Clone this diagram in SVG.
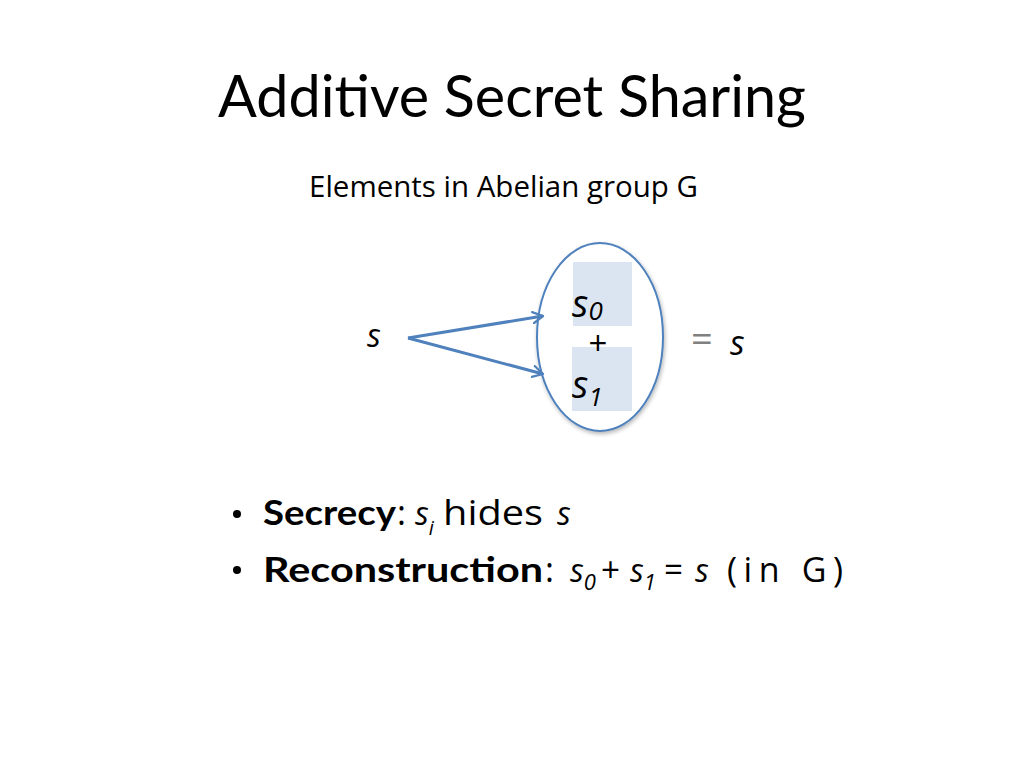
<svg xmlns="http://www.w3.org/2000/svg" width="1024" height="768" viewBox="0 0 1024 768">
<defs>
<marker id="arr" viewBox="0 0 12 12" refX="10" refY="6" markerWidth="4.5" markerHeight="4.5" orient="auto" markerUnits="strokeWidth">
<path d="M1,1 L10,6 L1,11" fill="none" stroke="#4f81bd" stroke-width="2" stroke-linecap="round" stroke-linejoin="round"/>
</marker>
<filter id="sh" x="-20%" y="-20%" width="140%" height="140%">
<feGaussianBlur in="SourceAlpha" stdDeviation="2"/>
<feOffset dx="1" dy="2"/>
<feComponentTransfer><feFuncA type="linear" slope="0.3"/></feComponentTransfer>
<feMerge><feMergeNode/><feMergeNode in="SourceGraphic"/></feMerge>
</filter>
</defs>
<style>
.title{font-family:"Lato","Open Sans",sans-serif;font-size:58px;fill:#000}
.sub{font-family:"Open Sans","Liberation Sans",sans-serif;font-size:30px;fill:#000}
.var{font-family:"Open Sans","Liberation Sans",sans-serif;font-style:italic;fill:#000}
.txt{font-family:"Open Sans","Liberation Sans",sans-serif;font-size:34px;fill:#000}
.b{font-family:"Lato","Open Sans",sans-serif;font-weight:bold;font-size:34px;fill:#000}
.conn{stroke:#4f81bd;stroke-width:3;fill:none}
.share{fill:#dbe5f1}
</style>
<rect width="1024" height="768" fill="#fff"/>
<text class="title" x="218" y="117" textLength="588" lengthAdjust="spacingAndGlyphs">Additive Secret Sharing</text>
<text class="sub" x="309" y="197" textLength="389" lengthAdjust="spacingAndGlyphs">Elements in Abelian group G</text>

<g id="secret">
<text class="var" x="367" y="347" font-size="32">s</text>
</g>
<g id="shares">
<ellipse cx="600" cy="337" rx="63" ry="94" fill="#fff" stroke="#4f81bd" stroke-width="2" filter="url(#sh)"/>
<rect class="share" x="573" y="262" width="59" height="64"/>
<rect class="share" x="572" y="347" width="60" height="64"/>
<text class="var" x="572" y="317" font-size="38">s<tspan font-size="26" dy="3">0</tspan></text>
<text x="598" y="355" font-family="Open Sans, Liberation Sans, sans-serif" font-size="33" text-anchor="middle">+</text>
<text class="var" x="572" y="398" font-size="38">s<tspan font-size="26" dy="8">1</tspan></text>
</g>
<g id="result">
<text x="691" y="352" font-family="Open Sans, Liberation Sans, sans-serif" font-size="38" fill="#808080">=</text>
<text class="var" x="730" y="355" font-size="34">s</text>
</g>
<g id="connectors">
<line class="conn" x1="408" y1="338" x2="543" y2="316" marker-end="url(#arr)"/>
<line class="conn" x1="408" y1="338" x2="543" y2="374" marker-end="url(#arr)"/>
</g>

<g id="bullets">
<circle cx="237" cy="514" r="4"/>
<text class="b" x="263" y="525" textLength="133" lengthAdjust="spacingAndGlyphs">Secrecy</text>
<text class="txt" x="397" y="525">:</text>
<text class="var" x="415" y="525" font-size="32">s<tspan font-size="20" dy="10">i</tspan></text>
<text class="txt" x="443" y="525" textLength="100" lengthAdjust="spacingAndGlyphs">hides</text>
<text class="var" x="557" y="525" font-size="32">s</text>
<circle cx="237" cy="570" r="4"/>
<text class="b" x="263" y="582" textLength="280" lengthAdjust="spacingAndGlyphs">Reconstruction</text>
<text class="txt" x="545" y="582">:</text>
<text class="var" x="570" y="582" font-size="32">s<tspan font-size="22" dy="8">0</tspan></text>
<text class="txt" x="601" y="582" textLength="19" lengthAdjust="spacingAndGlyphs">+</text>
<text class="var" x="630" y="582" font-size="32">s<tspan font-size="22" dy="8">1</tspan></text>
<text class="txt" x="664" y="582" textLength="19" lengthAdjust="spacingAndGlyphs">=</text>
<text class="var" x="695" y="582" font-size="32">s</text>
<text class="txt" x="727" y="582" font-size="36" textLength="116" lengthAdjust="spacing">(in G)</text>
</g>
</svg>
